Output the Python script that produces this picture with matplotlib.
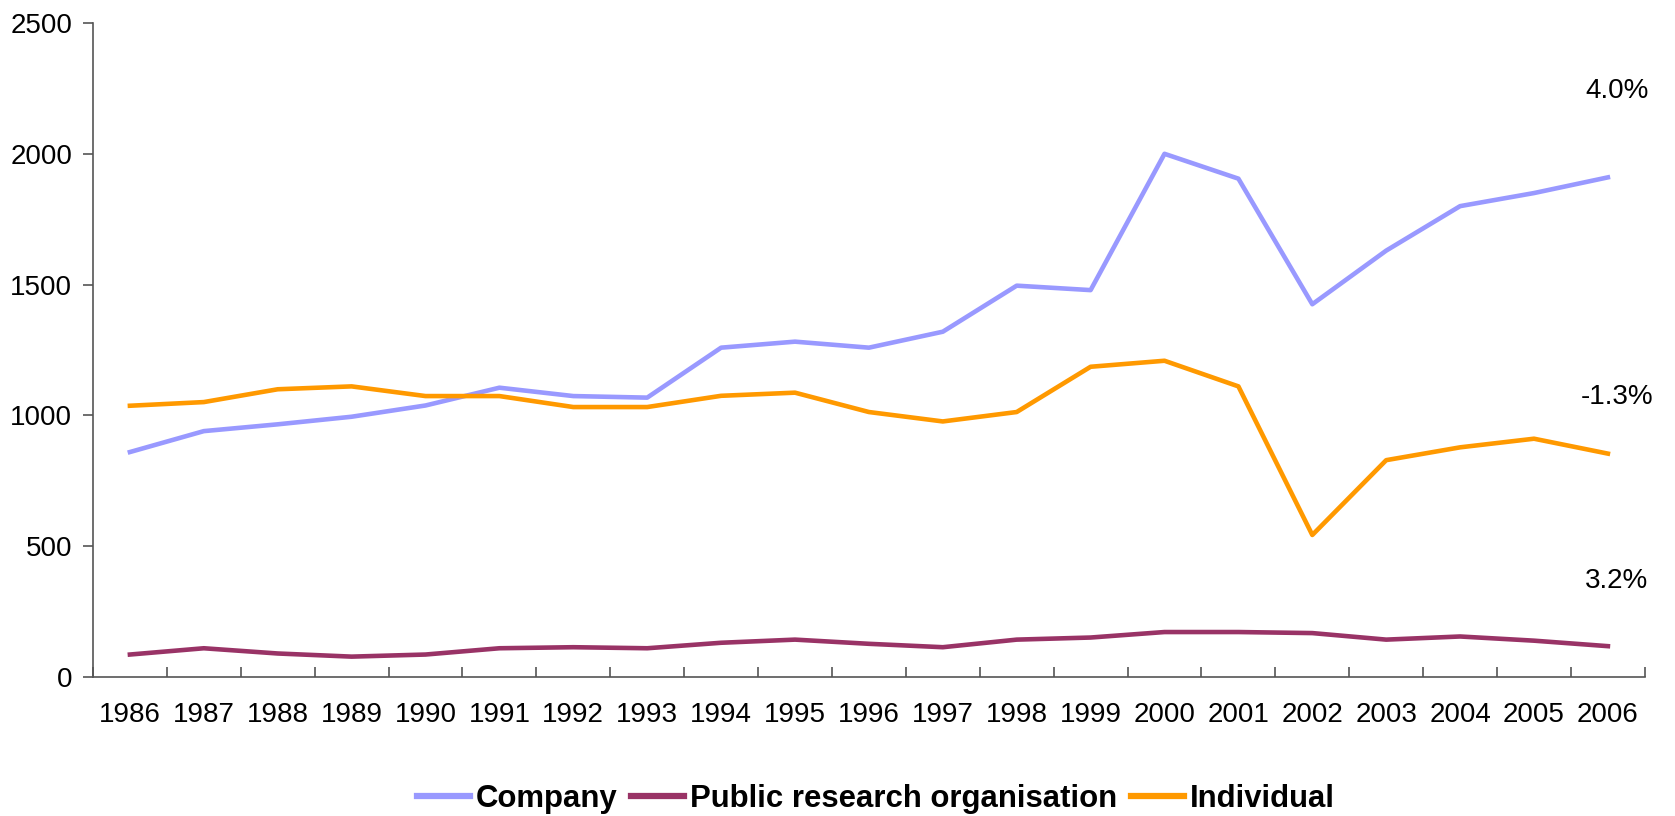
import matplotlib
matplotlib.use("Agg")
import matplotlib.pyplot as plt

years = [str(y) for y in range(1986, 2007)]
company = [860, 940, 966, 995, 1038, 1106, 1074, 1068, 1259, 1282, 1259, 1320,
           1496, 1479, 2000, 1905, 1425, 1630, 1800, 1850, 1910]
public = [86, 110, 90, 78, 86, 110, 114, 110, 131, 143, 127, 114,
          143, 151, 172, 172, 168, 143, 155, 139, 118]
individual = [1037, 1051, 1100, 1111, 1074, 1074, 1032, 1032, 1075, 1087, 1013, 977,
              1013, 1186, 1209, 1111, 543, 829, 878, 911, 854]
growth_labels = ["4.0%", "-1.3%", "3.2%"]
growth_y = [2240, 1070, 367]

plt.rcParams['font.family'] = ['Liberation Sans', 'DejaVu Sans']

fig = plt.figure(figsize=(16.75, 8.16), dpi=100)
ax = fig.add_axes([0.0555, 0.1703, 0.9265, 0.8015])

x = list(range(len(years)))
ax.plot(x, company, color='#9999FF', lw=3.3, label='Company')
ax.plot(x, public, color='#993366', lw=3.3, label='Public research organisation')
ax.plot(x, individual, color='#FF9900', lw=3.3, label='Individual')

ax.set_xlim(-0.5, len(years) - 0.5)
ax.set_ylim(0, 2500)
ax.set_yticks([0, 500, 1000, 1500, 2000, 2500])
ax.set_xticks(x)
ax.set_xticklabels(years)
ax.set_xticks([i + 0.5 for i in range(-1, len(years))], minor=True)
ax.tick_params(axis='x', which='major', length=0, pad=18, labelsize=20)
ax.tick_params(axis='x', which='minor', length=7, direction='in', color='#555555', width=1.2)
ax.tick_params(axis='y', length=7, direction='out', color='#555555', width=1.2, labelsize=20, pad=8)

for s in ['top', 'right']:
    ax.spines[s].set_visible(False)
for s in ['left', 'bottom']:
    ax.spines[s].set_color('#555555')
    ax.spines[s].set_linewidth(1.2)

for lab, yy in zip(growth_labels, growth_y):
    ax.text(20.12, yy, lab, ha='center', va='center', fontsize=20)

leg = fig.legend(loc='center', bbox_to_anchor=(0.523, 0.021), ncol=3, frameon=False,
                 prop={'family': ['Liberation Sans'], 'weight': 'bold', 'size': 22.4},
                 handlelength=1.7, handletextpad=0.2, columnspacing=0.44)
for h in leg.legend_handles:
    h.set_linewidth(4.5)

fig.savefig('out.png', dpi=100)
